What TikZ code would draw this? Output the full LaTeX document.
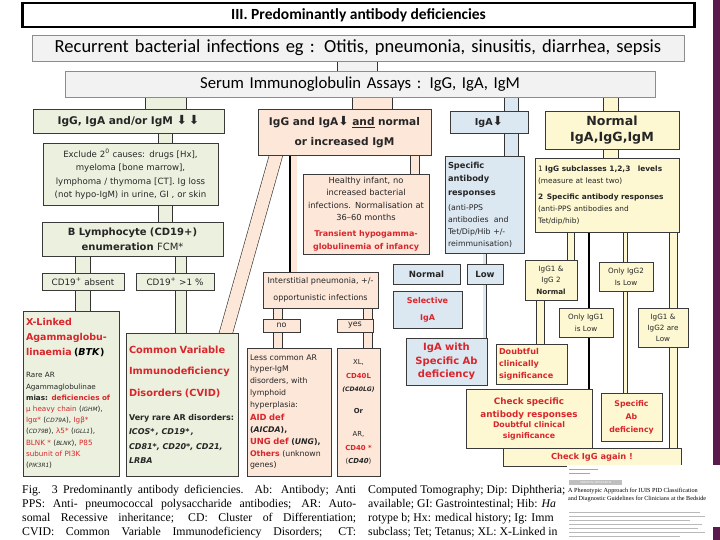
\documentclass[tikz,border=0pt]{standalone}
\usepackage{fontspec}
\usepackage{xcolor}
\setmainfont{DejaVu Sans}
\newfontfamily\calfont{Carlito}
\newfontfamily\capfont{Liberation Serif}
\newfontfamily\dnfont{DejaVu Sans}
\usetikzlibrary{positioning,backgrounds}

\definecolor{gfill}{HTML}{EBF1DE}
\definecolor{ofill}{HTML}{FCE7D9}
\definecolor{bfill}{HTML}{DBE8F1}
\definecolor{yfill}{HTML}{FDF8D2}
\definecolor{greyfill}{HTML}{F2F2F2}
\definecolor{redtxt}{HTML}{D9262C}
\definecolor{edge}{HTML}{3A3A3A}
\definecolor{barcol}{HTML}{5A1A4C}

\newcommand{\fz}[2]{\fontsize{#1}{#2}\selectfont}
\newcommand{\rd}[1]{{\color{redtxt}\bfseries #1}}
\newcommand{\gn}[1]{{\fontsize{5.8}{5.8}\selectfont\itshape #1}}
\newcommand{\dn}{{\dnfont\mdseries\fontsize{12.5}{12}\selectfont\char"2B07}}
\newcommand{\capline}[1]{\makebox[334pt][s]{#1}}
% box given by its corners, in pixels of the slide
\newcommand{\cell}[7]{%
  \node[#2, minimum width={(#5-#3)*1pt}, minimum height={(#6-#4)*1pt},
        text width={(#5-#3-6)*1pt}] (#1) at ({(#3+#5)/2},{(#4+#6)/2}) {#7};}

\tikzset{
  box/.style={draw=edge, line width=0.7pt, inner sep=0pt, align=center, text=black!85},
  gbox/.style={box, fill=gfill},
  obox/.style={box, fill=ofill},
  bbox/.style={box, fill=bfill},
  ybox/.style={box, fill=yfill},
  band/.style={line width=0.6pt, draw=black!80, double distance=#1},
  gband/.style={band=#1, double=gfill},
  oband/.style={band=#1, double=ofill},
  bband/.style={band=#1, double=bfill},
  yband/.style={band=#1, double=yfill},
}

\begin{document}
\begin{tikzpicture}[x=1pt,y=-1pt]
  \useasboundingbox (0,0) rectangle (720,540);

  % top boxes
  \node[draw=black, line width=2.6pt, minimum width=672pt, minimum height=24pt, inner sep=0pt]
    (ttl) at (358.5,15) {\calfont\bfseries\fz{15.5}{17}III. Predominantly antibody deficiencies};
  \cell{recur}{box, fill=greyfill, draw=black!45, text=black, font=\calfont\fz{18.5}{20}}{32}{35}{684}{61}{Recurrent bacterial infections eg : Otitis, pneumonia, sinusitis, diarrhea, sepsis}
  \cell{serum}{box, fill=greyfill, draw=black!45, text=black, font=\calfont\fz{16.7}{19}}{65}{71}{655}{97}{Serum Immunoglobulin Assays : IgG, IgA, IgM}

  % green column
  \cell{igg}{gbox, font=\bfseries\fz{10.6}{12}}{33}{109}{224}{133}{IgG, IgA and/or IgM \dn\,\dn}
  \cell{excl}{gbox, font=\fz{8.6}{13.5}}{43}{143}{218}{205}{Exclude 2\textsuperscript{0} causes: drugs [Hx],\\ myeloma [bone marrow],\\ lymphoma / thymoma [CT]. Ig loss\\ (not hypo-IgM) in urine, GI , or skin}
  \cell{blym}{gbox, font=\fz{10}{15}}{42}{222}{223}{256}{\textbf{B Lymphocyte (CD19+)}\\ \textbf{enumeration} FCM*}
  \cell{cdneg}{gbox, font=\fz{8.8}{10}}{42}{273}{124}{290}{CD19\textsuperscript{+} absent}
  \cell{cdpos}{gbox, font=\fz{8.8}{10}}{136}{273}{214}{290}{CD19\textsuperscript{+} >1 \%}
  \cell{xla}{gbox, align=left, font=\fz{7.2}{11.2}}{23}{311}{119}{476}{%
    {\color{redtxt}\bfseries\fz{9.5}{15}X-Linked\\Agammaglobu-\\linaemia \textcolor{black}{(\textit{BTK})}\par}
    \vspace{11pt}
    Rare AR\\Agammaglobulinae\\\textbf{mias:} \rd{deficiencies of}\\
    \textcolor{redtxt}{μ heavy chain} (\gn{IGHM}),\\
    \textcolor{redtxt}{Igα*} (\gn{CD79A}), \textcolor{redtxt}{Igβ*}\\
    (\gn{CD79B}), \textcolor{redtxt}{λ5*} (\gn{IGLL1}),\\
    \textcolor{redtxt}{BLNK *} (\gn{BLNK}), \textcolor{redtxt}{P85}\\
    \textcolor{redtxt}{subunit of PI3K}\\
    (\gn{PIK3R1})}
  \cell{cvid}{gbox, align=left, font=\fz{8}{14.3}}{126}{333}{238}{476}{%
    {\color{redtxt}\bfseries\fz{9.8}{21.5}Common Variable\\Immunodeficiency\\Disorders (CVID)\par}
    \vspace{10pt}
    {\bfseries Very rare AR disorders:\\\itshape ICOS*\,, CD19*\,,\\CD81*, CD20*, CD21,\\LRBA\par}}

  % peach column
  \cell{ighm}{obox, font=\bfseries\fz{10.6}{20}}{258}{109}{431}{155}{IgG and IgA\dn\ \underline{and} normal\\or increased IgM}
  \cell{hlth}{obox, font=\fz{8.3}{12.6}}{303}{174}{429}{254}{Healthy infant, no\\increased bacterial\\infections. Normalisation at\\36--60 months\par\vspace{2.5pt}
    {\color{redtxt}\bfseries\fz{8}{13}Transient hypogamma-\\globulinemia of infancy\par}}
  \cell{inter}{obox, font=\fz{8}{17}}{263}{272}{378}{308}{Interstitial pneumonia, +/-\\opportunistic infections}
  \cell{nobox}{obox, font=\fz{8}{10}}{263}{319}{300}{332}{no}
  \cell{yesbox}{obox, font=\fz{8}{10}}{337}{319}{373}{332}{yes}
  \cell{hypm}{obox, align=left, font=\fz{7.8}{11.8}}{247}{348}{331}{476}{%
    Less common AR\\hyper-IgM\\disorders, with\\lymphoid\\hyperplasia:\par\vspace{1.5pt}
    {\fz{8.4}{11.8}\rd{AID def}}\\\textbf{(\textit{AICDA}),}\\{\fz{8.4}{11.8}\rd{UNG def}} \textbf{(\textit{UNG}),}\\\rd{Others} (unknown\\genes)}
  \cell{cdl}{obox, font=\fz{6.9}{13.5}}{337}{348}{380}{476}{%
    XL,\\\rd{CD40L}\\\textbf{\textit{\fz{6.1}{13.5}(CD40LG)}}\\[8.5pt]\textbf{Or}\\[9.5pt]AR,\\\rd{CD40 *}\\(\textbf{\textit{CD40}})}

  % blue column
  \cell{iga}{bbox, font=\bfseries\fz{9.6}{12}}{450}{111}{528}{133}{IgA\dn}
  \cell{sar}{bbox, align=left, font=\fz{7.8}{12}}{445}{156}{524}{253}{%
    {\bfseries\fz{8.3}{13.5}Specific\\antibody\\responses\par}\vspace{3pt}
    (anti-PPS\\antibodies~ and\\Tet/Dip/Hib +/-\\reimmunisation)}
  \cell{bnorm}{bbox, font=\bfseries\fz{8.6}{10}}{393}{264}{460}{284}{Normal}
  \cell{blow}{bbox, font=\bfseries\fz{8.6}{10}}{467}{264}{503}{284}{Low}
  \cell{selig}{bbox, text=redtxt, font=\bfseries\fz{8}{17}}{393}{291}{462}{328}{Selective\\IgA}
  \cell{igasp}{bbox, text=redtxt, font=\bfseries\fz{10}{13.5}}{406}{338}{487}{385}{IgA with\\Specific Ab\\deficiency}

  % yellow column
  \cell{nrm}{ybox, font=\bfseries\fz{12.6}{16}}{545}{111}{679}{149}{Normal\\IgA,IgG,IgM}
  \cell{subcl}{ybox, align=left, font=\fz{7.4}{12}}{535}{158}{679}{232}{%
    1 \textbf{IgG subclasses 1,2,3\quad levels}\\(measure at least two)\par\vspace{4pt}
    \textbf{2\enspace Specific antibody responses}\\(anti-PPS antibodies and\\Tet/dip/hib)}
  \cell{gnorm}{ybox, font=\fz{7.2}{11.5}}{525}{260}{577}{300}{IgG1 \&\\IgG 2\\\textbf{Normal}}
  \cell{onlyb}{ybox, font=\fz{7.2}{12}}{599}{262}{653}{291}{Only IgG2\\Is Low}
  \cell{onlya}{ybox, font=\fz{7.2}{12}}{559}{308}{613}{337}{Only IgG1\\is Low}
  \cell{glow}{ybox, font=\fz{7.2}{11}}{638}{308}{688}{347}{IgG1 \&\\IgG2 are\\Low}
  \cell{doubt}{ybox, align=left, text=redtxt, font=\bfseries\fz{8.1}{12}}{496}{344}{567}{384}{Doubtful\\clinically\\significance}
  \cell{chkab}{ybox, text=redtxt, font=\bfseries\fz{8.8}{13}}{466}{389}{592}{448}{Check specific\\antibody responses\par
    {\fz{7.8}{10.5}Doubtful clinical\\significance\par}}
  \cell{spab}{ybox, text=redtxt, font=\bfseries\fz{7.8}{13}}{601}{393}{662}{441}{Specific\\Ab\\deficiency}
  \cell{again}{ybox, text=redtxt, font=\bfseries\fz{8.3}{11}}{503}{448}{681}{466}{Check IgG again !}

  % connectors, under the boxes
  \begin{pgfonlayer}{background}
    \fill[white] (0,0) rectangle (720,540);
    \coordinate (cr) at (357.5,0);
    \coordinate (cg) at (166,0);   \coordinate (cg2) at (165.5,0);
    \coordinate (cg3) at (83,0);   \coordinate (cg4) at (181,0);
    \coordinate (co) at (372.5,0); \coordinate (co2) at (415,0);
    \coordinate (co3) at (293.5,0); \coordinate (co4) at (290,0);
    \coordinate (cd1) at (276,0);  \coordinate (cd2) at (226,0);
    \coordinate (co5) at (278,0);  \coordinate (co6) at (368,0);
    \coordinate (cb) at (511.5,0); \coordinate (cb2) at (453.5,0); \coordinate (cb3) at (484.5,0);
    \coordinate (cy) at (611,0);   \coordinate (cy2) at (571,0);   \coordinate (cy3) at (540.5,0);
    \coordinate (cy4) at (589,0);  \coordinate (cy5) at (625.5,0); \coordinate (cy6) at (673.5,0);

    \draw[band=39.8pt, double=greyfill] (cr |- recur.south) -- (cr |- serum.north);
    \draw[gband=40.8pt] (cg |- serum.south) -- (cg |- igg.north);
    \draw[gband=13.8pt] (cg2 |- igg.south) -- (cg2 |- blym.north);
    \draw[gband=14.8pt] (cg3 |- blym.south) -- (cg3 |- xla.north);
    \draw[gband=10.8pt] (cg4 |- blym.south) -- (cg4 |- cvid.north);

    \draw[oband=39.8pt] (co |- serum.south) -- (co |- ighm.north);
    \draw[oband=8.8pt] (co2 |- ighm.south) -- (co2 |- hlth.north);
    \draw[line width=7pt, ofill] (co3 |- ighm.south) -- (co3 |- inter.north);
    \draw[line width=1.3pt] (co4 |- ighm.south) -- (co4 |- inter.north);
    \draw[oband=12.5pt, shorten <=-4pt, shorten >=-4pt] (cd1 |- ighm.south) -- (cd2 |- cvid.north);
    \draw[oband=8.8pt] (co5 |- inter.south) -- (co5 |- hypm.north);
    \draw[oband=8.8pt] (co6 |- inter.south) -- (co6 |- cdl.north);

    \draw[bband=13.8pt] (cb |- serum.south) -- (cb |- sar.north);
    \draw[band=4.5pt, double=white] (cb2 |- sar.south) -- (cb2 |- selig.north);
    \draw[bband=2.8pt] (cb3 |- sar.south) -- (cb3 |- igasp.north);

    \draw[yband=14.8pt] (cy |- serum.south) -- (cy |- subcl.north);
    \draw[yband=6.8pt] (cy2 |- subcl.south) -- (cy2 |- gnorm.north);
    \draw[yband=7.8pt] (cy3 |- gnorm.south) -- (cy3 |- doubt.north);
    \draw[line width=1.2pt] (cy4 |- subcl.south) -- (cy4 |- chkab.north);
    \draw[band=3.5pt, double=yfill] (cy5 |- subcl.south) -- (cy5 |- spab.north);
    \draw[yband=7.8pt] (cy6 |- subcl.south) -- (cy6 |- again.north);
  \end{pgfonlayer}

  % slide bar
  \fill[barcol] (713,0) rectangle (720,465);

  % caption of the figure
  \node[anchor=north west, align=left, inner sep=0pt, font=\capfont\fz{11.8}{14}]
    (capl) at (22,485) {\capline{Fig. 3 Predominantly antibody deficiencies. Ab: Antibody; Anti}\\
    \capline{PPS: Anti- pneumococcal polysaccharide antibodies; AR: Auto-}\\
    \capline{somal Recessive inheritance; CD: Cluster of Differentiation;}\\
    \capline{CVID: Common Variable Immunodeficiency Disorders; CT:}};
  \node[anchor=north west, align=left, inner sep=0pt, font=\capfont\fz{11.8}{14}]
    (capr) at (368,485) {Computed Tomography; Dip: Diphtheria;\\
    available; GI: Gastrointestinal; Hib: \textit{Ha}\\
    rotype b; Hx: medical history; Ig: Imm\\
    subclass; Tet; Tetanus; XL: X-Linked in};

  % thumbnail of the paper
  \node[fill=white, inner sep=0pt, minimum width=153pt, minimum height=75pt, anchor=north west]
    (thumb) at (567,465) {};
  \draw[gray!70, line width=1pt] (569,469) -- (598,469);
  \draw[gray!70, line width=1pt] (569,473) -- (590,473);
  \fill[gray!50] (569,480) rectangle (622,485);
  \node[inner sep=0pt, font=\capfont\fz{3}{3}, text=white] (orig) at (595.5,482.5) {ORIGINAL RESEARCH};
  \node[anchor=north west, inner sep=0pt, align=left, font=\capfont\fz{6.2}{8}]
    (ptitle) at (568,488) {A Phenotypic Approach for IUIS PID Classification\\and Diagnostic Guidelines for Clinicians at the Bedside};
  \foreach \yy/\xx in {512/700, 516/705, 520/690, 524/702, 528/698, 532/705, 536/680}
    \draw[gray!55, line width=0.9pt] (569,\yy) -- (\xx,\yy);
  \fill[barcol] (713,527) rectangle (720,540);
\end{tikzpicture}
\end{document}
